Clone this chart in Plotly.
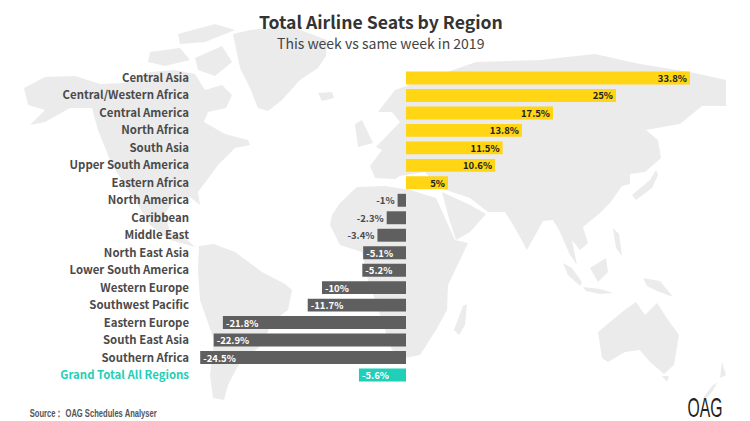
import plotly.graph_objects as go

regions = ["Central Asia", "Central/Western Africa", "Central America", "North Africa", "South Asia",
           "Upper South America", "Eastern Africa", "North America", "Caribbean", "Middle East",
           "North East Asia", "Lower South America", "Western Europe", "Southwest Pacific",
           "Eastern Europe", "South East Asia", "Southern Africa", "Grand Total All Regions"]
change = [33.8, 25, 17.5, 13.8, 11.5, 10.6, 5, -1, -2.3, -3.4, -5.1, -5.2, -10, -11.7, -21.8, -22.9, -24.5, -5.6]

GOLD = "#ffd514"
GREY = "#5f5f5f"
TEAL = "#1fcfb8"
LABEL = "#4a4a4a"
MAP = "#ebebeb"
FONT = "Noto Sans CJK SC"

W, H = 750, 421
L, R, T, B = 190, 10, 60, 26

# background world map, traced by hand in page pixels
land = [
    # north america
    [(24,88),(45,77),(75,76),(100,84),(125,83),(150,72),(175,70),(195,74),(205,90),(222,85),(232,95),(226,108),(208,112),(204,122),(225,134),(248,140),(250,145),(235,148),(228,155),(218,165),(207,180),(198,192),(200,205),(190,197),(175,200),(165,213),(170,232),(185,238),(195,247),(188,245),(170,240),(150,225),(135,200),(112,165),(98,130),(92,108),(70,108),(45,122),(30,125),(45,110),(28,105)],
    # arctic islands
    [(178,34),(215,24),(235,30),(205,42),(180,44)],
    [(150,52),(180,48),(190,60),(165,66),(148,62)],
    [(195,58),(222,46),(232,62),(215,76),(198,70)],
    # greenland
    [(233,34),(250,30),(290,26),(327,40),(326,56),(318,68),(300,80),(282,100),(268,111),(258,108),(250,88),(240,68)],
    [(318,93),(332,92),(334,98),(322,101)],
    # south america
    [(199,246),(214,244),(235,252),(262,272),(285,284),(292,290),(288,310),(272,322),(262,345),(240,362),(228,385),(224,400),(213,398),(210,375),(214,340),(200,300),(198,270)],
    # africa
    [(332,215),(340,203),(357,187),(385,186),(410,190),(436,198),(445,218),(455,240),(468,243),(448,285),(447,310),(436,330),(420,355),(405,358),(392,350),(380,315),(368,280),(362,252),(340,245),(330,225)],
    # madagascar
    [(463,306),(467,304),(465,325),(459,335),(454,330)],
    # arabia
    [(442,192),(470,205),(486,214),(470,232),(456,240),(450,222)],
    # eurasia
    [(378,112),(395,90),(430,78),(476,62),(540,60),(595,54),(640,64),(690,72),(726,80),(726,106),(702,106),(680,124),(646,130),(658,140),(661,158),(645,172),(630,174),(630,184),(622,186),(610,203),(600,213),(583,227),(588,243),(580,250),(572,240),(577,265),(570,255),(560,232),(553,220),(543,221),(527,250),(515,228),(505,212),(488,212),(470,198),(440,188),(425,172),(400,176),(395,179),(375,178),(370,166),(382,150),(376,147),(400,122),(392,112)],
    # uk
    [(355,124),(362,120),(373,143),(358,147)],
    # japan
    [(632,195),(650,180),(656,170),(658,175),(652,188),(636,200)],
    # sumatra, java, borneo, new guinea, philippines
    [(563,263),(572,268),(582,282),(580,286),(568,275)],
    [(583,287),(600,289),(613,293),(600,294),(586,291)],
    [(590,268),(606,258),(608,272),(598,282)],
    [(643,278),(660,281),(673,297),(657,291),(647,286)],
    [(613,228),(619,234),(622,256),(616,248)],
    # australia
    [(598,332),(622,312),(636,302),(645,315),(657,303),(668,320),(679,335),(674,365),(664,374),(650,362),(640,350),(625,352),(608,362),(602,358)],
    [(662,376),(669,376),(667,382)],
    # new zealand
    [(722,362),(726,375),(720,378)],
    [(718,382),(712,392),(705,400),(703,398),(712,386)],
]

def land_path(pts):
    coords = [((x - L) / (W - L - R), 1 - (y - T) / (H - T - B)) for x, y in pts]
    return "M " + " L ".join(f"{a:.4f} {b:.4f}" for a, b in coords) + " Z"

colors = [GOLD if v > 0 else GREY for v in change]
colors[-1] = TEAL

text_pos = ["inside" if abs(v) > 5 else "outside" for v in change]
text_pos[6] = "inside"
text_col = ["#222222" if v > 0 else "#ffffff" for v in change]
for i in (7, 8, 9):
    text_col[i] = LABEL

ticks = [f"<b>{r}</b>" for r in regions]
ticks[-1] = f'<b><span style="color:{TEAL}">{regions[-1]}</span></b>'

fig = go.Figure(go.Bar(
    x=change,
    y=regions,
    orientation="h",
    width=0.74,
    marker=dict(color=colors, line=dict(width=0)),
    text=[f"<b>{v:g}%</b>" for v in change],
    textposition=text_pos,
    insidetextanchor="end",
    textangle=0,
    constraintext="none",
    cliponaxis=False,
    textfont=dict(family=FONT, size=9.5, color=text_col),
))

# pixel = 406 + 8.4 * value, rows 17.47px apart starting at y=78
fig.update_xaxes(range=[(L - 406) / 8.4, (W - R - 406) / 8.4], visible=False)
fig.update_yaxes(
    categoryorder="array", categoryarray=regions,
    range=[(H - B - 78) / 17.47, (T - 78) / 17.47],
    tickmode="array", tickvals=regions, ticktext=ticks,
    ticks="", ticklen=0, showgrid=False, showline=False, zeroline=False,
    tickfont=dict(family=FONT, size=11.4, color=LABEL),
)

fig.update_layout(
    width=W, height=H,
    margin=dict(l=L, r=R, t=T, b=B),
    paper_bgcolor="white", plot_bgcolor="rgba(0,0,0,0)",
    showlegend=False,
    shapes=[dict(type="path", path=land_path(p), xref="paper", yref="paper",
                 fillcolor=MAP, line=dict(width=0), layer="below") for p in land],
)

def page_note(x, y, text, size, color, family=FONT, weight="normal"):
    fig.add_annotation(x=(x - L) / (W - L - R), y=1 - (y - T) / (H - T - B), xref="paper", yref="paper",
                       text=text, showarrow=False, xanchor="center", yanchor="middle",
                       borderpad=0, font=dict(family=family, size=size, color=color, weight=weight))

page_note(380.5, 22, "Total Airline Seats by Region", 17.6, "#333333", weight="bold")
page_note(380.5, 43, "This week vs same week in 2019", 14, "#444444")
page_note(93.5, 413, "Source： OAG Schedules Analyser", 11.5, "#555555", family="Liberation Sans", weight="bold")
page_note(705, 407, "OAG", 28, "#222222", family="Liberation Sans")

# no narrow font installed, so squeeze these two to their width in the reference
squeeze = """
document.body.style.margin = '0';
var widths = {'OAG': 35, 'Source： OAG Schedules Analyser': 127};
document.querySelectorAll('.annotation-text').forEach(function (t) {
    var w = widths[t.textContent];
    if (!w) return;
    t.setAttribute('textLength', w);
    t.setAttribute('lengthAdjust', 'spacingAndGlyphs');
});
"""
fig.write_html("out.html", config=dict(displayModeBar=False), post_script=squeeze)
